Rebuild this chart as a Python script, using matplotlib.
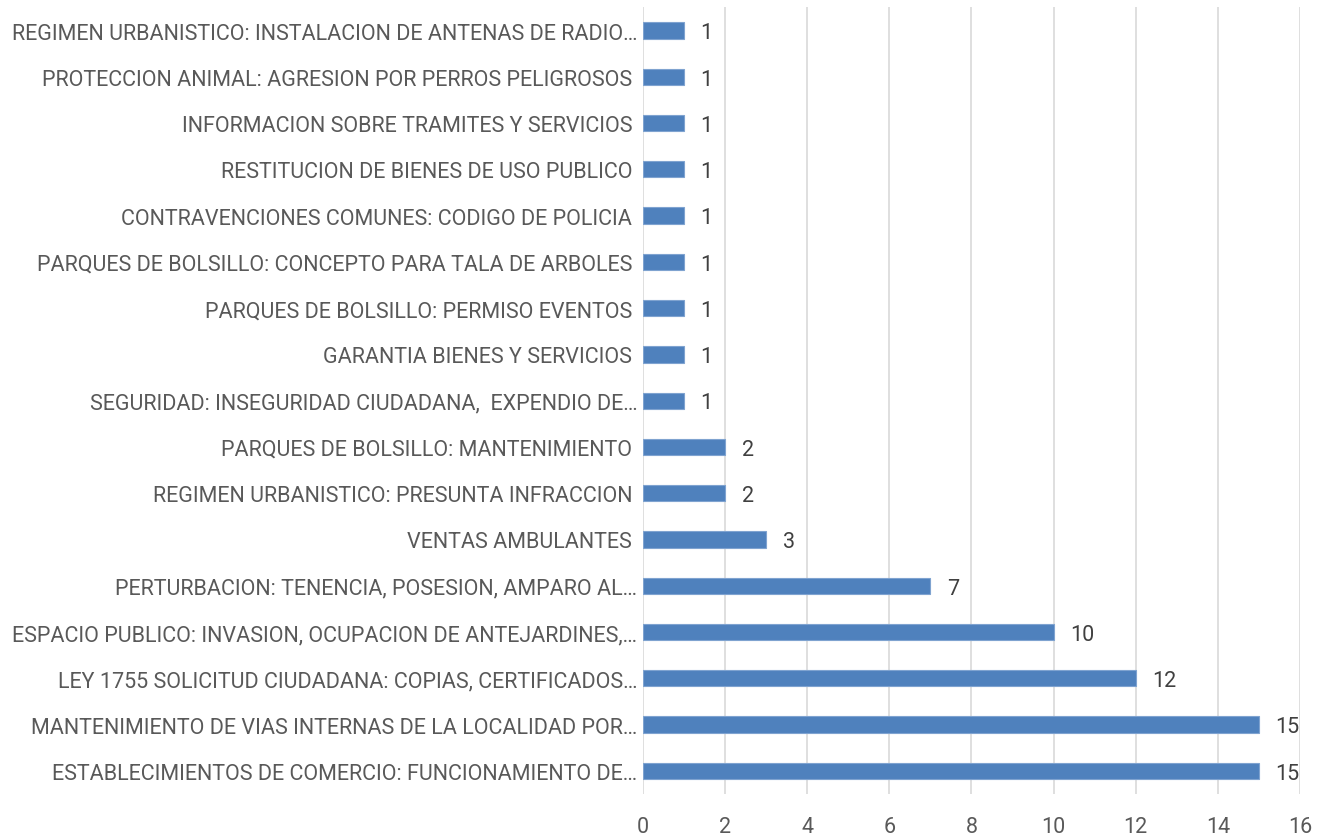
import matplotlib
matplotlib.use("Agg")
import matplotlib.pyplot as plt
from matplotlib import font_manager

categories = [
    "ESTABLECIMIENTOS DE COMERCIO: FUNCIONAMIENTO DE…",
    "MANTENIMIENTO DE VIAS INTERNAS DE LA LOCALIDAD POR…",
    "LEY 1755 SOLICITUD CIUDADANA: COPIAS, CERTIFICADOS…",
    "ESPACIO PUBLICO: INVASION, OCUPACION DE ANTEJARDINES,…",
    "PERTURBACION: TENENCIA, POSESION, AMPARO AL…",
    "VENTAS AMBULANTES ",
    "REGIMEN URBANISTICO: PRESUNTA INFRACCION ",
    "PARQUES DE BOLSILLO: MANTENIMIENTO ",
    "SEGURIDAD: INSEGURIDAD CIUDADANA,  EXPENDIO DE…",
    "GARANTIA BIENES Y SERVICIOS ",
    "PARQUES DE BOLSILLO: PERMISO EVENTOS ",
    "PARQUES DE BOLSILLO: CONCEPTO PARA TALA DE ARBOLES ",
    "CONTRAVENCIONES COMUNES: CODIGO DE POLICIA ",
    "RESTITUCION DE BIENES DE USO PUBLICO ",
    "INFORMACION SOBRE TRAMITES Y SERVICIOS ",
    "PROTECCION ANIMAL: AGRESION POR PERROS PELIGROSOS ",
    "REGIMEN URBANISTICO: INSTALACION DE ANTENAS DE RADIO…",
]
counts = [15, 15, 12, 10, 7, 3, 2, 2, 1, 1, 1, 1, 1, 1, 1, 1, 1]
xticks = [0, 2, 4, 6, 8, 10, 12, 14, 16]

names = {f.name for f in font_manager.fontManager.ttflist}
fam = "Liberation Sans Narrow" if "Liberation Sans Narrow" in names else "Roboto"
plt.rcParams["font.family"] = [fam, "DejaVu Sans"]

fig = plt.figure(figsize=(13.18, 8.37), dpi=100)
ax = fig.add_axes([0.4879, 0.0502, 0.4984, 0.9398])

ys = range(len(categories))
ax.barh(ys, counts, height=0.35, color="#4F81BD", edgecolor="#7FA3D0",
        linewidth=0.8, zorder=3)
for y, v in zip(ys, counts):
    ax.text(v + 0.4, y - 0.05, str(v), va="center", ha="left", fontsize=15.5,
            color="#404040")

ax.set_xlim(0, 16)
ax.set_ylim(-0.5, len(categories) - 0.5)
ax.set_xticks(xticks)
ax.set_yticks(list(ys))
ax.set_yticklabels(categories)
ax.tick_params(axis="y", length=0, pad=4, labelsize=15.5, labelcolor="#595959")
ax.tick_params(axis="x", length=0, pad=16, labelsize=15.5, labelcolor="#595959")
ax.grid(axis="x", color="#D9D9D9", lw=1.2, zorder=0)
for s in ax.spines.values():
    s.set_visible(False)

fig.savefig("out.png", dpi=100)
